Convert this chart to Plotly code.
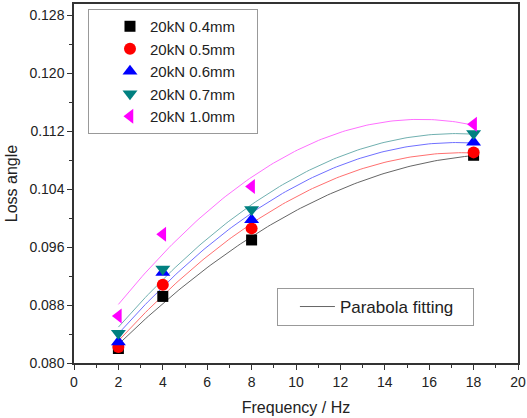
import numpy as np
import plotly.graph_objects as go

freq = [2, 4, 8, 18]
names = ["20kN 0.4mm", "20kN 0.5mm", "20kN 0.6mm", "20kN 0.7mm", "20kN 1.0mm"]
loss_04 = [0.0820, 0.0892, 0.0970, 0.1087]
loss_05 = [0.0822, 0.0908, 0.0986, 0.1091]
loss_06 = [0.0829, 0.0925, 0.0998, 0.1105]
loss_07 = [0.0841, 0.0930, 0.1012, 0.1117]
loss_10 = [0.0865, 0.0978, 0.1044, 0.1130]
series = [loss_04, loss_05, loss_06, loss_07, loss_10]
fit_label = "Parabola fitting"

colors = ["#000000", "#ff0000", "#0000ff", "#008080", "#ff00ff"]
fit_colors = ["#666666", "#ff7070", "#7070ff", "#70b0b0", "#ff70ff"]
symbols = ["square", "circle", "triangle-up", "triangle-down", "triangle-left"]
sizes = [11, 12, 13, 13, 13]

FONT = "Liberation Sans, Arial, sans-serif"
PAD1 = "\u00a0" * 4   # right padding inside legend boxes
PAD2 = "\u00a0" * 3

fig = go.Figure()

# parabola fits
xf = np.linspace(2, 18, 120)
for i, ys in enumerate(series):
    c = np.polyfit(freq, ys, 2)
    fig.add_trace(go.Scatter(
        x=xf, y=np.polyval(c, xf), mode="lines",
        line=dict(color=fit_colors[i], width=1),
        name=fit_label + PAD2, legend="legend2",
        showlegend=(i == 0), hoverinfo="skip"))

for i, ys in enumerate(series):
    fig.add_trace(go.Scatter(
        x=freq, y=ys, mode="markers", name=names[i] + PAD1,
        marker=dict(symbol=symbols[i], size=sizes[i], color=colors[i],
                    line=dict(width=0))))

axis_common = dict(
    showline=True, linecolor="#333333", linewidth=1.5, mirror=True,
    ticks="outside", ticklen=5, tickwidth=1.2, tickcolor="#333333",
    showgrid=False, zeroline=False, automargin=False,
    tickfont=dict(family=FONT, size=14, color="#222222"),
)

fig.update_xaxes(range=[0, 20], dtick=2, tick0=0,
                 minor=dict(ticks="outside", ticklen=3, dtick=1, tickcolor="#333333"),
                 title=dict(text="Frequency / Hz", font=dict(family=FONT, size=16, color="#222222"), standoff=13),
                 **axis_common)
fig.update_yaxes(range=[0.080, 0.1296], dtick=0.008, tick0=0.080, tickformat=".3f",
                 minor=dict(ticks="outside", ticklen=3, dtick=0.004, tickcolor="#333333"),
                 title=dict(text="Loss angle", font=dict(family=FONT, size=16, color="#222222"), standoff=8),
                 **axis_common)

fig.update_layout(
    width=527, height=418,
    margin=dict(l=74, r=9, t=4, b=55, autoexpand=False),
    plot_bgcolor="white", paper_bgcolor="white",
    font=dict(family=FONT, size=16, color="#222222"),
    legend=dict(x=0.0315, y=0.986, xanchor="left", yanchor="top",
                bordercolor="#999999", borderwidth=1, bgcolor="white",
                font=dict(family=FONT, size=15), indentation=21,
                tracegroupgap=0, itemsizing="trace"),
    legend2=dict(x=0.457, y=0.209, xanchor="left", yanchor="top",
                 bordercolor="#999999", borderwidth=1, bgcolor="white",
                 font=dict(family=FONT, size=17), indentation=17, itemwidth=35),
)

fig.write_html("out.html", config={"displayModeBar": False},
               post_script="document.body.style.margin='0';document.body.style.overflow='hidden';")
